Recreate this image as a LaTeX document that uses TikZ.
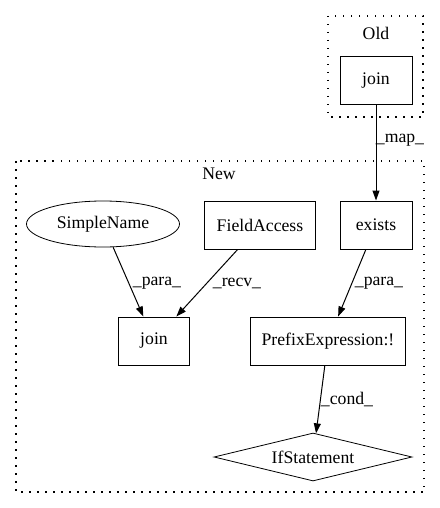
\documentclass[tikz,border=0pt]{standalone}
\usepackage{fontspec}
\setmainfont{Liberation Serif}
\usetikzlibrary{shapes.geometric,arrows.meta}
\begin{document}
\begin{tikzpicture}[x=1pt,y=-1pt,
  every node/.style={font=\fontsize{17.7}{20}\selectfont},
  boxnode/.style={draw, line width=1pt, rectangle, inner sep=0pt},
  ellnode/.style={draw, line width=0.8pt, ellipse, inner sep=0pt, minimum width=153pt, minimum height=46pt},
  dianode/.style={draw, line width=0.8pt, diamond, aspect=4, inner sep=0pt, minimum width=198pt, minimum height=48pt},
  cluster/.style={line width=1.2pt, dash pattern=on 1.5pt off 6.5pt},
  edge/.style={draw, line width=1pt, -{Triangle[length=10pt,width=7pt]}},
  lab/.style={inner sep=0pt}
]
\useasboundingbox (0,0) rectangle (439,508);
% clusters
\draw[cluster] (328,16) rectangle (423,117);
\node[lab] (oldlab) at (376,33) {Old};
\draw[cluster] (16,161) rectangle (424,492);
\node[lab] (newlab) at (219,174) {New};
% nodes
\node[boxnode, minimum width=72pt, minimum height=48pt] (oldjoin) at (376,81) {join};
\node[ellnode] (sn) at (103,224) {SimpleName};
\node[boxnode, minimum width=111pt, minimum height=48pt] (fa) at (260,225) {FieldAccess};
\node[boxnode, minimum width=72pt, minimum height=48pt] (ex) at (376,225) {exists};
\node[boxnode, minimum width=71pt, minimum height=48pt] (nj) at (154,341) {join};
\node[boxnode, minimum width=155pt, minimum height=48pt] (pe) at (328,341) {PrefixExpression:!};
\node[dianode] (ifs) at (313,457) {IfStatement};
% edges
\draw[edge] (oldjoin) -- (ex);
\draw[edge] (sn) -- (nj);
\draw[edge] (fa) -- (nj);
\draw[edge] (ex) -- (pe);
\draw[edge] (pe) -- (ifs);
% edge labels
\node[lab] (lmap) at (400,140) {\_map\_};
\node[lab] (lpara1) at (157,283) {\_para\_};
\node[lab] (lrecv) at (237,283) {\_recv\_};
\node[lab] (lpara2) at (379,283) {\_para\_};
\node[lab] (lcond) at (347,399) {\_cond\_};
\end{tikzpicture}
\end{document}
